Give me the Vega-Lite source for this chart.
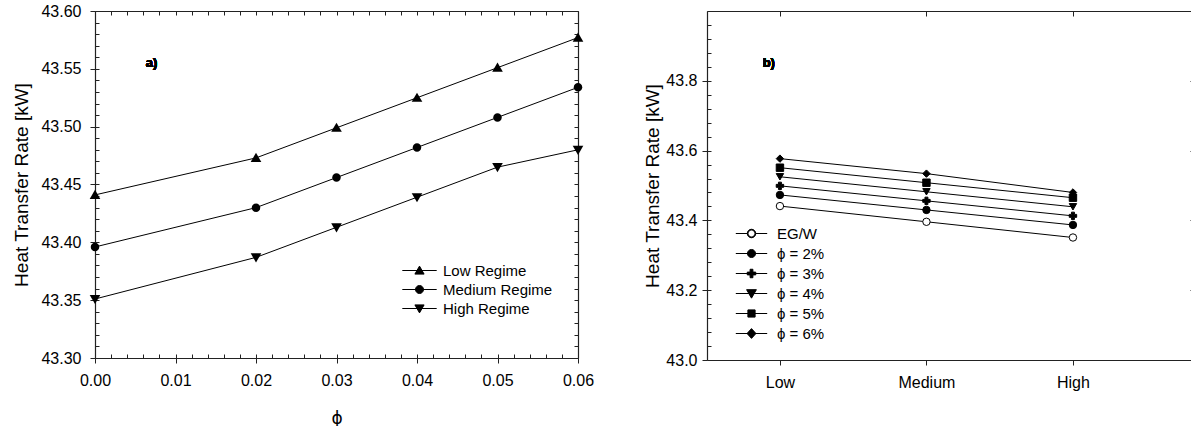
{
  "$schema": "https://vega.github.io/schema/vega-lite/v6.json",
  "background": "white",
  "padding": {"left": 12, "top": 3, "right": 0, "bottom": 0},
  "spacing": 49,
  "config": {
    "font": "Liberation Sans",
    "view": {"stroke": null},
    "axis": {"grid": false, "domainColor": "#222", "tickColor": "#222", "labelColor": "black", "titleColor": "black", "labelFont": "Liberation Sans", "titleFont": "Liberation Sans", "labelFontSize": 16, "titleFontSize": 19, "titleFontWeight": "normal", "domainWidth": 1.2, "tickWidth": 1, "labelFlush": false},
    "legend": {"labelFont": "Liberation Sans", "labelColor": "black", "padding": 0, "symbolStrokeWidth": 1, "symbolOpacity": 1}
  },
  "datasets": {
    "a": [
      {"phi": 0.00, "regime": "Low Regime", "q": 43.441},
      {"phi": 0.02, "regime": "Low Regime", "q": 43.473},
      {"phi": 0.03, "regime": "Low Regime", "q": 43.499},
      {"phi": 0.04, "regime": "Low Regime", "q": 43.525},
      {"phi": 0.05, "regime": "Low Regime", "q": 43.551},
      {"phi": 0.06, "regime": "Low Regime", "q": 43.577},
      {"phi": 0.00, "regime": "Medium Regime", "q": 43.396},
      {"phi": 0.02, "regime": "Medium Regime", "q": 43.430},
      {"phi": 0.03, "regime": "Medium Regime", "q": 43.456},
      {"phi": 0.04, "regime": "Medium Regime", "q": 43.482},
      {"phi": 0.05, "regime": "Medium Regime", "q": 43.508},
      {"phi": 0.06, "regime": "Medium Regime", "q": 43.534},
      {"phi": 0.00, "regime": "High Regime", "q": 43.351},
      {"phi": 0.02, "regime": "High Regime", "q": 43.387},
      {"phi": 0.03, "regime": "High Regime", "q": 43.413},
      {"phi": 0.04, "regime": "High Regime", "q": 43.439},
      {"phi": 0.05, "regime": "High Regime", "q": 43.465},
      {"phi": 0.06, "regime": "High Regime", "q": 43.480}
    ],
    "b": [
      {"regime": "Low", "series": "EG/W", "q": 43.441},
      {"regime": "Medium", "series": "EG/W", "q": 43.396},
      {"regime": "High", "series": "EG/W", "q": 43.351},
      {"regime": "Low", "series": "ϕ = 2%", "q": 43.473},
      {"regime": "Medium", "series": "ϕ = 2%", "q": 43.430},
      {"regime": "High", "series": "ϕ = 2%", "q": 43.387},
      {"regime": "Low", "series": "ϕ = 3%", "q": 43.499},
      {"regime": "Medium", "series": "ϕ = 3%", "q": 43.456},
      {"regime": "High", "series": "ϕ = 3%", "q": 43.413},
      {"regime": "Low", "series": "ϕ = 4%", "q": 43.525},
      {"regime": "Medium", "series": "ϕ = 4%", "q": 43.482},
      {"regime": "High", "series": "ϕ = 4%", "q": 43.439},
      {"regime": "Low", "series": "ϕ = 5%", "q": 43.551},
      {"regime": "Medium", "series": "ϕ = 5%", "q": 43.508},
      {"regime": "High", "series": "ϕ = 5%", "q": 43.465},
      {"regime": "Low", "series": "ϕ = 6%", "q": 43.577},
      {"regime": "Medium", "series": "ϕ = 6%", "q": 43.534},
      {"regime": "High", "series": "ϕ = 6%", "q": 43.480}
    ]
  },
  "resolve": {"scale": {"shape": "independent", "fill": "independent"}, "legend": {"shape": "independent"}},
  "hconcat": [
    {
      "width": 483,
      "height": 347,
      "data": {"name": "a"},
      "resolve": {"axis": {"x": "independent", "y": "independent"}, "scale": {"shape": "independent"}},
      "layer": [
        {
          "mark": {"type": "line", "color": "black", "strokeWidth": 1},
          "encoding": {
            "x": {"field": "phi", "type": "quantitative", "scale": {"domain": [0, 0.06], "nice": false, "zero": false},
              "axis": {"orient": "bottom", "values": [0, 0.01, 0.02, 0.03, 0.04, 0.05, 0.06], "format": ".2f", "tickSize": 5, "labelPadding": 9, "title": "ϕ", "titleFont": "DejaVu Sans", "titleFontSize": 17, "titlePadding": 22}},
            "y": {"field": "q", "type": "quantitative", "scale": {"domain": [43.3, 43.6], "nice": false, "zero": false},
              "axis": {"orient": "left", "values": [43.3, 43.35, 43.4, 43.45, 43.5, 43.55, 43.6], "format": ".2f", "tickSize": 5, "labelPadding": 9, "title": "Heat Transfer Rate [kW]", "titlePadding": 9}},
            "detail": {"field": "regime"}
          }
        },
        {
          "mark": {"type": "point", "filled": true, "color": "black", "size": 72, "opacity": 1, "strokeWidth": 0.5},
          "encoding": {
            "x": {"field": "phi", "type": "quantitative",
              "axis": {"orient": "bottom", "values": [0,0.002,0.004,0.006,0.008,0.01,0.012,0.014,0.016,0.018,0.02,0.022,0.024,0.026,0.028,0.03,0.032,0.034,0.036,0.038,0.04,0.042,0.044,0.046,0.048,0.05,0.052,0.054,0.056,0.058,0.06], "tickSize": -4, "labels": false, "domain": false, "title": null}},
            "y": {"field": "q", "type": "quantitative",
              "axis": {"orient": "left", "values": [43.3,43.31,43.32,43.33,43.34,43.35,43.36,43.37,43.38,43.39,43.4,43.41,43.42,43.43,43.44,43.45,43.46,43.47,43.48,43.49,43.5,43.51,43.52,43.53,43.54,43.55,43.56,43.57,43.58,43.59,43.6], "tickSize": -4, "labels": false, "domain": false, "title": null}},
            "shape": {"field": "regime", "type": "nominal", "scale": {"domain": ["Low Regime", "Medium Regime", "High Regime"], "range": ["M0,-1.2L1.25,0.95L-1.25,0.95Z", "M-1,0A1,1 0 1,1 1,0A1,1 0 1,1 -1,0Z", "M0,1.2L1.25,-0.95L-1.25,-0.95Z"]}, "legend": null}
          }
        },
        {
          "transform": [{"filter": "false"}],
          "mark": {"type": "point", "filled": true, "fill": "black", "stroke": "black", "strokeWidth": 1, "opacity": 1},
          "encoding": {
            "x": {"field": "phi", "type": "quantitative",
              "axis": {"orient": "top", "values": [0,0.002,0.004,0.006,0.008,0.01,0.012,0.014,0.016,0.018,0.02,0.022,0.024,0.026,0.028,0.03,0.032,0.034,0.036,0.038,0.04,0.042,0.044,0.046,0.048,0.05,0.052,0.054,0.056,0.058,0.06], "tickSize": -4, "labels": false, "domain": true, "title": null}},
            "y": {"field": "q", "type": "quantitative",
              "axis": {"orient": "right", "values": [43.3,43.31,43.32,43.33,43.34,43.35,43.36,43.37,43.38,43.39,43.4,43.41,43.42,43.43,43.44,43.45,43.46,43.47,43.48,43.49,43.5,43.51,43.52,43.53,43.54,43.55,43.56,43.57,43.58,43.59,43.6], "tickSize": -4, "labels": false, "domain": true, "title": null}},
            "shape": {"field": "regime", "type": "nominal",
              "scale": {"domain": ["Low Regime", "Medium Regime", "High Regime"],
                "range": ["M-4.3,0H4.3M0,-1.1L1.15,0.9L-1.15,0.9Z", "M-4.3,0H4.3M-1,0A1,1 0 1,1 1,0A1,1 0 1,1 -1,0Z", "M-4.3,0H4.3M0,1.1L1.15,-0.9L-1.15,-0.9Z"]},
              "legend": {"title": null, "orient": "none", "legendX": 317, "legendY": 252, "symbolSize": 64, "labelFontSize": 15, "labelOffset": 16, "rowPadding": 3}}
          }
        },
        {
          "mark": {"type": "text", "text": "a)", "fontWeight": "bold", "fontSize": 13, "align": "left", "baseline": "middle", "color": "black"},
          "encoding": {
            "x": {"datum": 0.0063, "type": "quantitative", "axis": null},
            "y": {"datum": 43.555, "type": "quantitative", "axis": null}
          }
        }
      ]
    },
    {
      "width": 487,
      "height": 349,
      "data": {"name": "b"},
      "resolve": {"axis": {"x": "independent", "y": "independent"}, "scale": {"shape": "independent"}},
      "layer": [
        {
          "mark": {"type": "line", "color": "black", "strokeWidth": 1},
          "encoding": {
            "x": {"field": "regime", "type": "nominal", "sort": ["Low", "Medium", "High"],
              "scale": {"type": "point", "domain": ["Low", "Medium", "High"], "padding": 0.662, "align": 0.376},
              "axis": {"orient": "bottom", "tickSize": 5, "labelAngle": 0, "labelPadding": 9, "title": null}},
            "y": {"field": "q", "type": "quantitative", "scale": {"domain": [43.0, 44.0], "nice": false, "zero": false},
              "axis": {"orient": "left", "values": [43.0, 43.2, 43.4, 43.6, 43.8], "format": ".1f", "tickSize": 5, "labelPadding": 5, "title": "Heat Transfer Rate [kW]", "titlePadding": 3}},
            "detail": {"field": "series"}
          }
        },
        {
          "mark": {"type": "point", "filled": true, "stroke": "black", "strokeWidth": 1, "size": 55, "opacity": 1},
          "encoding": {
            "x": {"field": "regime", "type": "nominal",
              "axis": {"orient": "top", "tickSize": -5, "labels": false, "domain": true, "title": null}},
            "y": {"field": "q", "type": "quantitative",
              "axis": {"orient": "left", "values": [43,43.04,43.08,43.12,43.16,43.2,43.24,43.28,43.32,43.36,43.4,43.44,43.48,43.52,43.56,43.6,43.64,43.68,43.72,43.76,43.8,43.84,43.88,43.92,43.96,44], "tickSize": -4, "labels": false, "domain": false, "title": null}},
            "shape": {"field": "series", "type": "nominal", "scale": {"domain": ["EG/W", "ϕ = 2%", "ϕ = 3%", "ϕ = 4%", "ϕ = 5%", "ϕ = 6%"], "range": ["circle", "circle", "cross", "triangle-down", "square", "diamond"]}, "legend": null},
            "fill": {"field": "series", "type": "nominal", "scale": {"domain": ["EG/W", "ϕ = 2%", "ϕ = 3%", "ϕ = 4%", "ϕ = 5%", "ϕ = 6%"], "range": ["white", "black", "black", "black", "black", "black"]}, "legend": null}
          }
        },
        {
          "transform": [{"filter": "false"}],
          "mark": {"type": "point", "filled": true, "fill": "black", "stroke": "black", "strokeWidth": 1, "opacity": 1},
          "encoding": {
            "x": {"field": "regime", "type": "nominal", "axis": null},
            "y": {"field": "q", "type": "quantitative",
              "axis": {"orient": "right", "values": [43.0, 43.2, 43.4, 43.6, 43.8, 44.0], "tickSize": -4, "labels": false, "domain": true, "title": null}},
            "shape": {"field": "series", "type": "nominal",
              "scale": {"domain": ["EG/W", "ϕ = 2%", "ϕ = 3%", "ϕ = 4%", "ϕ = 5%", "ϕ = 6%"],
                "range": [
                  "M-3.7,0H-1M1,0H3.7M-1,0A1,1 0 1,1 1,0A1,1 0 1,1 -1,0ZM-0.82,0A0.82,0.82 0 1,0 0.82,0A0.82,0.82 0 1,0 -0.82,0Z",
                  "M-3.7,0H3.7M-0.95,0A0.95,0.95 0 1,1 0.95,0A0.95,0.95 0 1,1 -0.95,0Z",
                  "M-3.7,0H3.7M-0.33,-1H0.33V-0.33H1V0.33H0.33V1H-0.33V0.33H-1V-0.33H-0.33Z",
                  "M-3.7,0H3.7M0,1.1L1.15,-0.9L-1.15,-0.9Z",
                  "M-3.7,0H3.7M-0.85,-0.85H0.85V0.85H-0.85Z",
                  "M-3.7,0H3.7M0,-1.15L1.05,0L0,1.15L-1.05,0Z"
                ]},
              "legend": {"title": null, "orient": "none", "legendX": 37, "legendY": 215, "symbolSize": 72, "labelFontSize": 15, "labelOffset": 18, "rowPadding": 4}}
          }
        },
        {
          "mark": {"type": "text", "text": "b)", "fontWeight": "bold", "fontSize": 13, "align": "right", "baseline": "middle", "color": "black", "dx": -5},
          "encoding": {
            "x": {"datum": "Low", "type": "nominal", "axis": null},
            "y": {"datum": 43.85, "type": "quantitative", "axis": null}
          }
        }
      ]
    }
  ]
}
